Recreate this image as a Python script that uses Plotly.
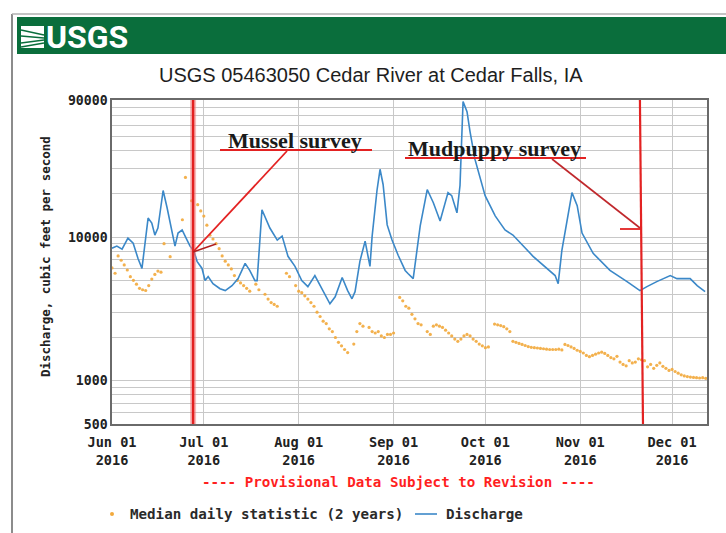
import plotly.graph_objects as go

# ---------------- data ----------------
discharge_dates = [
    "2016-06-01 00:00", "2016-06-02 14:00", "2016-06-04 07:00", "2016-06-06 05:00", "2016-06-07 22:00",
    "2016-06-09 12:00", "2016-06-10 19:00", "2016-06-11 19:00", "2016-06-12 19:00", "2016-06-14 00:00",
    "2016-06-15 00:00", "2016-06-16 00:00", "2016-06-17 17:00", "2016-06-19 00:00", "2016-06-20 00:00",
    "2016-06-21 14:00", "2016-06-22 14:00", "2016-06-23 22:00", "2016-06-25 05:00", "2016-06-26 12:00",
    "2016-06-27 19:00", "2016-06-28 19:00", "2016-06-30 10:00", "2016-07-01 10:00", "2016-07-02 10:00",
    "2016-07-04 00:00", "2016-07-06 07:00", "2016-07-08 00:00", "2016-07-10 05:00", "2016-07-12 05:00",
    "2016-07-14 12:00", "2016-07-16 00:00", "2016-07-17 17:00", "2016-07-18 10:00", "2016-07-20 00:00",
    "2016-07-22 14:00", "2016-07-25 00:00", "2016-07-26 14:00", "2016-07-28 12:00", "2016-07-30 19:00",
    "2016-08-02 00:00", "2016-08-04 00:00", "2016-08-06 07:00", "2016-08-09 00:00", "2016-08-11 05:00",
    "2016-08-12 22:00", "2016-08-15 05:00", "2016-08-17 00:00", "2016-08-18 10:00", "2016-08-19 10:00",
    "2016-08-21 00:00", "2016-08-22 17:00", "2016-08-23 17:00", "2016-08-24 07:00", "2016-08-25 00:00",
    "2016-08-26 14:00", "2016-08-27 14:00", "2016-08-28 14:00", "2016-08-29 22:00", "2016-08-31 12:00",
    "2016-09-02 12:00", "2016-09-04 19:00", "2016-09-05 17:00", "2016-09-07 10:00", "2016-09-09 17:00",
    "2016-09-12 00:00", "2016-09-14 00:00", "2016-09-16 05:00", "2016-09-18 19:00", "2016-09-20 00:00",
    "2016-09-21 17:00", "2016-09-22 17:00", "2016-09-23 17:00", "2016-09-25 00:00", "2016-09-26 00:00",
    "2016-09-27 14:00", "2016-09-30 22:00", "2016-10-04 05:00", "2016-10-05 19:00", "2016-10-07 10:00",
    "2016-10-10 00:00", "2016-10-16 14:00", "2016-10-23 19:00", "2016-10-24 19:00", "2016-10-26 00:00",
    "2016-10-27 17:00", "2016-10-29 07:00", "2016-10-31 00:00", "2016-11-01 14:00", "2016-11-05 05:00",
    "2016-11-10 17:00", "2016-11-16 07:00", "2016-11-20 12:00", "2016-11-22 19:00", "2016-11-26 00:00",
    "2016-11-30 10:00", "2016-12-02 14:00", "2016-12-06 22:00", "2016-12-09 05:00", "2016-12-11 19:00",
]
discharge_cfs = [
    8370, 8660, 8230, 9830, 9070,
    7100, 6050, 9070, 13570, 12530,
    10330, 11560, 21100, 16000, 12550,
    8650, 10670, 11200, 9840, 8650,
    7970, 6780, 6050, 4980, 5310,
    4740, 4370, 4240, 4590, 5140,
    6560, 5860, 4980, 4980, 15500,
    11560, 9530, 10160, 7350, 6250,
    4980, 4520, 5400, 4240, 3430,
    3840, 5230, 4240, 3720, 4170,
    6780, 9380, 7110, 6250, 10160,
    21100, 29650, 23240, 12150, 9530,
    7470, 5860, 5580, 5140, 11960,
    21430, 17350, 12960, 20400, 19440,
    14760, 22860, 87900, 74700, 54000,
    34850, 19440, 14060, 12550, 11200,
    10330, 7350, 5400, 4740, 8100,
    13180, 20400, 16530, 10670, 7710,
    5860, 4900, 4240, 4520, 4900,
    5400, 5140, 5140, 4590, 4170,
]

median_dates = [
    "2016-06-01", "2016-06-02", "2016-06-03", "2016-06-04", "2016-06-05", "2016-06-06", "2016-06-07",
    "2016-06-08", "2016-06-09", "2016-06-10", "2016-06-11", "2016-06-12", "2016-06-13", "2016-06-14",
    "2016-06-15", "2016-06-16", "2016-06-17", "2016-06-18", "2016-06-20", "2016-06-24", "2016-06-25",
    "2016-06-27", "2016-06-29", "2016-06-30", "2016-07-01", "2016-07-02", "2016-07-03", "2016-07-04",
    "2016-07-05", "2016-07-06", "2016-07-07", "2016-07-08", "2016-07-09", "2016-07-10", "2016-07-11",
    "2016-07-12", "2016-07-13", "2016-07-14", "2016-07-15", "2016-07-16", "2016-07-18", "2016-07-19",
    "2016-07-21", "2016-07-22", "2016-07-23", "2016-07-24", "2016-07-25", "2016-07-28", "2016-07-29",
    "2016-07-31", "2016-08-01", "2016-08-02", "2016-08-03", "2016-08-04", "2016-08-05", "2016-08-06",
    "2016-08-07", "2016-08-08", "2016-08-09", "2016-08-10", "2016-08-11", "2016-08-12", "2016-08-13",
    "2016-08-14", "2016-08-15", "2016-08-16", "2016-08-17", "2016-08-19", "2016-08-20", "2016-08-21",
    "2016-08-22", "2016-08-24", "2016-08-25", "2016-08-26", "2016-08-27", "2016-08-28", "2016-08-29",
    "2016-08-30", "2016-08-31", "2016-09-01", "2016-09-03", "2016-09-04", "2016-09-05", "2016-09-06",
    "2016-09-07", "2016-09-08", "2016-09-09", "2016-09-10", "2016-09-12", "2016-09-13", "2016-09-14",
    "2016-09-15", "2016-09-16", "2016-09-17", "2016-09-18", "2016-09-19", "2016-09-20", "2016-09-21",
    "2016-09-22", "2016-09-23", "2016-09-24", "2016-09-25", "2016-09-26", "2016-09-27", "2016-09-28",
    "2016-09-29", "2016-09-30", "2016-10-01", "2016-10-02", "2016-10-04", "2016-10-05", "2016-10-06",
    "2016-10-07", "2016-10-08", "2016-10-09", "2016-10-10", "2016-10-11", "2016-10-12", "2016-10-13",
    "2016-10-14", "2016-10-15", "2016-10-16", "2016-10-17", "2016-10-18", "2016-10-19", "2016-10-20",
    "2016-10-21", "2016-10-22", "2016-10-23", "2016-10-24", "2016-10-25", "2016-10-26", "2016-10-27",
    "2016-10-28", "2016-10-29", "2016-10-30", "2016-10-31", "2016-11-01", "2016-11-02", "2016-11-03",
    "2016-11-04", "2016-11-05", "2016-11-06", "2016-11-07", "2016-11-08", "2016-11-09", "2016-11-10",
    "2016-11-11", "2016-11-12", "2016-11-13", "2016-11-14", "2016-11-15", "2016-11-16", "2016-11-17",
    "2016-11-18", "2016-11-19", "2016-11-20", "2016-11-21", "2016-11-22", "2016-11-23", "2016-11-24",
    "2016-11-25", "2016-11-26", "2016-11-27", "2016-11-28", "2016-11-29", "2016-11-30", "2016-12-01",
    "2016-12-02", "2016-12-03", "2016-12-04", "2016-12-05", "2016-12-06", "2016-12-07", "2016-12-08",
    "2016-12-09", "2016-12-10", "2016-12-11", "2016-12-12",
]
median_cfs = [
    6100, 5600, 7400, 6900, 6400, 5900, 5300,
    5000, 4700, 4400, 4300, 4250, 4600, 5100,
    5500, 5800, 5700, 9000, 7300, 13200, 26000,
    17900, 16800, 15200, 14000, 12100, 10300, 9700,
    9000, 8300, 7400, 6800, 6400, 6000, 5400,
    5000, 4800, 4600, 4400, 4200, 4700, 4300,
    4000, 3700, 3500, 3400, 3300, 5600, 5300,
    4600, 4200, 4100, 3900, 3700, 3500, 3300,
    3000, 2800, 2600, 2500, 2300, 2200, 2000,
    1850, 1750, 1650, 1570, 1800, 2200, 2500,
    2400, 2350, 2200, 2150, 2200, 2050, 2000,
    2100, 2100, 2150, 3800, 3600, 3300, 3200,
    2900, 2700, 2500, 2450, 2200, 2100, 2400,
    2450, 2400, 2350, 2250, 2150, 2050, 1950,
    1880, 1950, 2050, 2100, 2050, 1950, 1880,
    1800, 1750, 1700, 1720, 2480, 2450, 2420,
    2380, 2300, 2200, 1880, 1850, 1820, 1790,
    1760, 1730, 1710, 1700, 1690, 1680, 1670,
    1660, 1650, 1650, 1650, 1660, 1640, 1790,
    1760, 1720, 1680, 1630, 1600, 1560, 1500,
    1470, 1500, 1530, 1560, 1580, 1550, 1500,
    1450, 1420, 1480, 1350, 1300, 1270, 1380,
    1330, 1350, 1420, 1400, 1380, 1250, 1300,
    1220, 1280, 1330, 1260, 1220, 1180, 1200,
    1160, 1130, 1100, 1080, 1070, 1060, 1055,
    1050, 1045, 1050, 1040,
]

month_ticks = ["2016-06-01", "2016-07-01", "2016-08-01", "2016-09-01", "2016-10-01", "2016-11-01", "2016-12-01"]
month_labels = ["Jun 01<br>2016", "Jul 01<br>2016", "Aug 01<br>2016", "Sep 01<br>2016",
                "Oct 01<br>2016", "Nov 01<br>2016", "Dec 01<br>2016"]
y_grid_values = [500, 600, 700, 800, 900,
                 1000, 2000, 3000, 4000, 5000, 6000, 7000, 8000, 9000,
                 10000, 20000, 30000, 40000, 50000, 60000, 70000, 80000, 90000]
y_labelled = {500: "500", 1000: "1000", 10000: "10000", 90000: "90000"}

mussel_survey_date = "2016-06-27 12:00"
mudpuppy_survey_top = "2016-11-20 12:00"
mudpuppy_survey_bottom = "2016-11-21 12:00"

# ---------------- layout geometry ----------------
W, H = 726, 533
ML, MR, MT, MB = 112, 19, 100, 109
PW, PH = W - ML - MR, H - MT - MB


def px(x):
    return (x - ML) / PW


def py(y):
    return (MT + PH - y) / PH


MONO = "DejaVu Sans Mono"
GREEN = "#0a6e3c"
RED = "#e32222"
BLUE = "#3b88c8"
ORANGE = "#f2a93b"

fig = go.Figure()
fig.add_trace(go.Scatter(
    x=median_dates, y=median_cfs, mode="markers",
    marker=dict(color=ORANGE, size=3.2, opacity=0.9),
    name="Median daily statistic (2 years)", showlegend=False,
))
fig.add_trace(go.Scatter(
    x=discharge_dates, y=discharge_cfs, mode="lines",
    line=dict(color=BLUE, width=1.6),
    name="Discharge", showlegend=False,
))

shapes = []
# outer frame
shapes.append(dict(type="line", xref="paper", yref="paper", x0=px(12), x1=px(12), y0=py(14), y1=py(540),
                   line=dict(color="#8c8c8c", width=2)))
shapes.append(dict(type="line", xref="paper", yref="paper", x0=px(12), x1=px(730), y0=py(14), y1=py(14),
                   line=dict(color="#b0b0b0", width=1.5)))
# green banner
shapes.append(dict(type="rect", xref="paper", yref="paper", x0=px(17), x1=px(730), y0=py(17), y1=py(54),
                   fillcolor=GREEN, line=dict(width=0), layer="below"))
# logo mark
shapes.append(dict(type="rect", xref="paper", yref="paper", x0=px(21), x1=px(44), y0=py(26), y1=py(48),
                   fillcolor="white", line=dict(width=0)))
for (ya, yb) in [(30, 35), (36, 38), (43, 40), (47, 43)]:
    shapes.append(dict(type="line", xref="paper", yref="paper", x0=px(21), x1=px(44), y0=py(ya), y1=py(yb),
                       line=dict(color=GREEN, width=1.4)))
# survey vertical lines
shapes.append(dict(type="line", xref="x", yref="paper", x0=mussel_survey_date, x1=mussel_survey_date,
                   y0=0, y1=1, line=dict(color="rgba(240,130,130,0.55)", width=6)))
shapes.append(dict(type="line", xref="x", yref="paper", x0=mussel_survey_date, x1=mussel_survey_date,
                   y0=0, y1=1, line=dict(color=RED, width=2.5)))
shapes.append(dict(type="line", xref="x", yref="paper", x0=mudpuppy_survey_top, x1=mudpuppy_survey_bottom,
                   y0=1, y1=0, line=dict(color=RED, width=2.2)))
# callout underlines and pointer lines
shapes.append(dict(type="line", xref="paper", yref="paper", x0=px(220), x1=px(372), y0=py(150), y1=py(150),
                   line=dict(color=RED, width=2)))
shapes.append(dict(type="line", xref="paper", yref="paper", x0=px(287), x1=px(193), y0=py(151), y1=py(252),
                   line=dict(color=RED, width=1.8)))
shapes.append(dict(type="line", xref="paper", yref="paper", x0=px(193), x1=px(216), y0=py(252), y1=py(244),
                   line=dict(color="#b02020", width=1.5)))
shapes.append(dict(type="line", xref="paper", yref="paper", x0=px(405), x1=px(586), y0=py(158), y1=py(158),
                   line=dict(color=RED, width=2)))
shapes.append(dict(type="line", xref="paper", yref="paper", x0=px(552), x1=px(640), y0=py(159), y1=py(228),
                   line=dict(color="#c0282c", width=1.6)))
shapes.append(dict(type="line", xref="paper", yref="paper", x0=px(620), x1=px(641), y0=py(229), y1=py(229),
                   line=dict(color=RED, width=1.8)))
# legend symbols
shapes.append(dict(type="circle", xref="paper", yref="paper", x0=px(110), x1=px(114), y0=py(512), y1=py(516),
                   fillcolor=ORANGE, line=dict(width=0)))
shapes.append(dict(type="line", xref="paper", yref="paper", x0=px(415), x1=px(437), y0=py(514), y1=py(514),
                   line=dict(color=BLUE, width=1.6)))

annotations = [
    dict(text="USGS", x=px(44), y=py(37), xanchor="left", yanchor="middle",
         font=dict(family="Roboto, Liberation Sans", size=32, color="white", weight="bold")),
    dict(text="USGS 05463050 Cedar River at Cedar Falls, IA", x=px(371), y=py(75), xanchor="center",
         yanchor="middle", font=dict(family="Liberation Sans, Arial", size=20, color="#1e1e1e")),
    dict(text="Discharge, cubic feet per second", x=px(45), y=py(257), textangle=-90, xanchor="center",
         yanchor="middle", font=dict(family=MONO, size=12.5, color="#222222", weight="bold")),
    dict(text="---- Provisional Data Subject to Revision ----", x=px(398), y=py(482), xanchor="center",
         yanchor="middle", font=dict(family=MONO, size=14.2, color="#ff1f1f", weight="bold")),
    dict(text="Median daily statistic (2 years)", x=px(128), y=py(514), xanchor="left", yanchor="middle",
         font=dict(family=MONO, size=14.2, color="#2a2a2a", weight="bold")),
    dict(text="Discharge", x=px(444), y=py(514), xanchor="left", yanchor="middle",
         font=dict(family=MONO, size=14.2, color="#2a2a2a", weight="bold")),
    dict(text="Mussel survey", x=px(295), y=py(140), xanchor="center", yanchor="middle",
         font=dict(family="Liberation Serif, Times New Roman", size=22, color="#1a1a1a", weight="bold")),
    dict(text="Mudpuppy survey", x=px(494), y=py(148), xanchor="center", yanchor="middle",
         font=dict(family="Liberation Serif, Times New Roman", size=22, color="#1a1a1a", weight="bold")),
]
for a in annotations:
    a.update(xref="paper", yref="paper", showarrow=False)

fig.update_layout(
    width=W, height=H, autosize=False,
    margin=dict(l=ML, r=MR, t=MT, b=MB, pad=0),
    paper_bgcolor="white", plot_bgcolor="white",
    shapes=shapes, annotations=annotations, showlegend=False,
)
fig.update_xaxes(
    type="date", range=["2016-06-01 00:00", "2016-12-12 10:00"],
    tickmode="array", tickvals=month_ticks, ticktext=month_labels, ticks="",
    ticklabelstandoff=5,
    showgrid=True, gridcolor="#c8c8c8", gridwidth=1,
    showline=True, mirror=True, linecolor="#6a6a6a", linewidth=1.5,
    tickfont=dict(family=MONO, size=13.6, color="#222222", weight="bold"),
    zeroline=False, fixedrange=True,
)
fig.update_yaxes(
    type="log", range=[2.69897, 4.95424],
    tickmode="array", tickvals=y_grid_values,
    ticktext=[y_labelled.get(v, "") for v in y_grid_values], ticks="",
    showgrid=True, gridcolor="#c8c8c8", gridwidth=1,
    showline=True, mirror=True, linecolor="#6a6a6a", linewidth=1.5,
    tickfont=dict(family=MONO, size=13.2, color="#222222", weight="bold"),
    zeroline=False, fixedrange=True,
)

fig.write_html("out.html", config={"displayModeBar": False})
